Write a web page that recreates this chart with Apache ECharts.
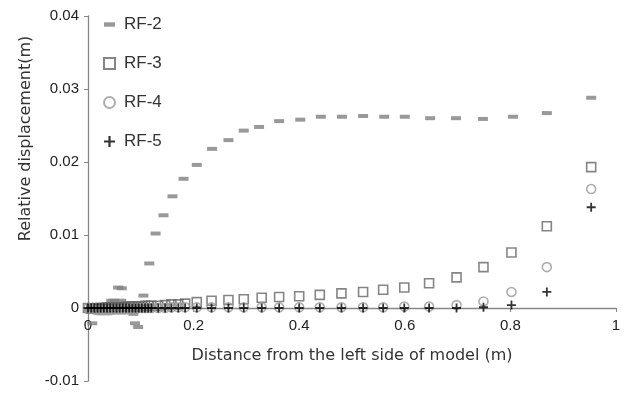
<!DOCTYPE html>
<html>
<head>
<meta charset="utf-8">
<script src="https://cdn.jsdelivr.net/npm/echarts@6/dist/echarts.min.js"></script>
<style>
  html, body { margin: 0; padding: 0; background: #fff; }
  #chart { width: 632px; height: 394px; }
</style>
</head>
<body>
<div id="chart"></div>
<script>
// RF-2 has its own x positions
var xRF2 = [0, 0.008, 0.014, 0.020, 0.026, 0.032, 0.038, 0.044, 0.050, 0.057, 0.063, 0.064, 0.070, 0.076, 0.082,
  0.086, 0.089, 0.095, 0.105, 0.116, 0.128, 0.143, 0.160, 0.181, 0.206, 0.235, 0.266, 0.295, 0.324, 0.362,
  0.402, 0.441, 0.481, 0.521, 0.561, 0.600, 0.648, 0.697, 0.748, 0.805, 0.869, 0.953];
var rf2 = [-0.0002, -0.0021, -0.0004, -0.0003, -0.0002, -0.0001, 0.0002, 0.0010, 0.0010, 0.0028, 0.0010, 0.0027, 0.0004, -0.0002, -0.0004,
  -0.0008, -0.0021, -0.0026, 0.0017, 0.0061, 0.0102, 0.0127, 0.0153, 0.0177, 0.0196, 0.0218, 0.0230, 0.0243, 0.0248, 0.0256,
  0.0258, 0.0262, 0.0262, 0.0263, 0.0262, 0.0262, 0.0260, 0.0260, 0.0259, 0.0262, 0.0267, 0.0288];

// nodes shared by RF-3, RF-4, RF-5
var xNodes = [0, 0.006, 0.012, 0.018, 0.024, 0.030, 0.036, 0.042, 0.048, 0.054, 0.060, 0.066, 0.072, 0.078, 0.084,
  0.090, 0.096, 0.102, 0.108, 0.114, 0.120, 0.133, 0.146, 0.158, 0.171, 0.184, 0.206, 0.234, 0.266, 0.295,
  0.329, 0.362, 0.400, 0.439, 0.480, 0.521, 0.559, 0.599, 0.646, 0.698, 0.749, 0.802, 0.869, 0.953];
var rf3 = [0, -0.0001, -0.0001, 0, 0, 0, 0.0001, 0.0001, 0.0001, 0.0001, 0.0001, 0.0001, 0.0002, 0.0002, 0.0002,
  0.0002, 0.0002, 0.0002, 0.0003, 0.0003, 0.0003, 0.0003, 0.0004, 0.0005, 0.0005, 0.0006, 0.0008, 0.0010, 0.0011, 0.0012,
  0.0014, 0.0015, 0.0016, 0.0018, 0.0020, 0.0022, 0.0025, 0.0028, 0.0034, 0.0042, 0.0056, 0.0076, 0.0112, 0.0193];
var rf4 = [0, -0.0001, -0.0002, -0.0003, -0.0003, -0.0003, -0.0003, -0.0003, -0.0002, -0.0002, -0.0002, -0.0002, -0.0002, -0.0001, -0.0001,
  -0.0001, 0, 0, 0, 0, 0, 0, 0, 0.0001, 0.0001, 0.0001, 0.0001, 0.0001, 0.0001, 0.0001,
  0.0001, 0.0001, 0.0001, 0.0001, 0.0001, 0.0001, 0.0001, 0.0002, 0.0002, 0.0004, 0.0009, 0.0022, 0.0056, 0.0163];
var rf5 = [0, 0, 0, 0, 0, 0, 0, 0, 0, 0, 0, 0, 0, 0, 0,
  0, 0, 0, 0, 0, 0, 0, 0, 0, 0, 0, 0, 0, 0, 0,
  0, 0, 0, 0, 0, 0, 0, 0, 0, 0, 0.0001, 0.0004, 0.0022, 0.0138];

var yTicks = [-0.01, 0, 0.01, 0.02, 0.03, 0.04];

function pairs(xs, ys) {
  return xs.map(function (x, i) { return [x, ys[i]]; });
}

var font = "'Liberation Sans', Arial, sans-serif";
var wideFont = "'DejaVu Sans', sans-serif";
var plusPath = "path://M4,0H6V4H10V6H6V10H4V6H0V4H4Z";
var dashPath = "path://M0,0H10V4H0Z";

// plot area
var gridTop = 16, gridBottom = 13, chartH = 394;
var plotH = chartH - gridTop - gridBottom;
var ymin = yTicks[0], ymax = yTicks[yTicks.length - 1];
// x axis sits on y = 0: lift it from the grid bottom
var zeroLift = plotH * (0 - ymin) / (ymax - ymin);

var chart = echarts.init(document.getElementById("chart"));
chart.setOption({
  animation: false,
  backgroundColor: "#fff",
  textStyle: { fontFamily: font },
  grid: { left: 88, right: 16, top: gridTop, bottom: gridBottom, containLabel: false, outerBoundsMode: "none" },
  legend: {
    orient: "vertical",
    left: 98,
    top: 11,
    itemWidth: 11,
    itemHeight: 11,
    itemGap: 22,
    symbolKeepAspect: true,
    textStyle: { fontSize: 17, color: "#333", fontFamily: font, padding: [9, 0, 0, 4] },
    data: [
      { name: "RF-2", icon: dashPath },
      { name: "RF-3" },
      { name: "RF-4" },
      { name: "RF-5", icon: plusPath }
    ]
  },
  xAxis: {
    type: "value",
    min: 0,
    max: 1,
    interval: 0.2,
    position: "bottom",
    offset: -zeroLift,
    name: "Distance from the left side of model (m)",
    nameLocation: "middle",
    nameGap: 40,
    nameTextStyle: { fontSize: 16, color: "#333", fontFamily: wideFont },
    axisLine: { onZero: false, lineStyle: { color: "#868686", width: 1.3 } },
    axisTick: { show: true, inside: false, length: 4, lineStyle: { color: "#868686" } },
    axisLabel: { fontSize: 15, color: "#222", margin: 10 },
    splitLine: { show: false }
  },
  yAxis: {
    type: "value",
    min: ymin,
    max: ymax,
    interval: 0.01,
    name: "Relative displacement(m)",
    nameLocation: "middle",
    nameGap: 52,
    nameTextStyle: { fontSize: 16, color: "#333", fontFamily: wideFont, padding: [0, 0, 0, 120] },
    axisLine: { show: true, lineStyle: { color: "#868686", width: 1.3 } },
    axisTick: { show: true, length: 4, lineStyle: { color: "#868686" } },
    axisLabel: {
      fontSize: 15, color: "#222", margin: 9,
      formatter: function (v) { return v === 0 ? "0" : (+v.toFixed(2)).toString(); }
    },
    splitLine: { show: false }
  },
  series: [
    {
      name: "RF-2",
      type: "scatter",
      symbol: "rect",
      symbolSize: [10, 4],
      itemStyle: { color: "#808080" },
      data: pairs(xRF2, rf2)
    },
    {
      name: "RF-3",
      type: "scatter",
      symbol: "rect",
      symbolSize: 9,
      itemStyle: { color: "rgba(255,255,255,0)", borderColor: "#666", borderWidth: 1.6 },
      data: pairs(xNodes, rf3)
    },
    {
      name: "RF-4",
      type: "scatter",
      symbol: "circle",
      symbolSize: 9,
      itemStyle: { color: "rgba(255,255,255,0)", borderColor: "#9a9a9a", borderWidth: 1.6 },
      data: pairs(xNodes, rf4)
    },
    {
      name: "RF-5",
      type: "scatter",
      symbol: plusPath,
      symbolSize: 9,
      itemStyle: { color: "#000" },
      data: pairs(xNodes, rf5)
    }
  ]
});
</script>
</body>
</html>
